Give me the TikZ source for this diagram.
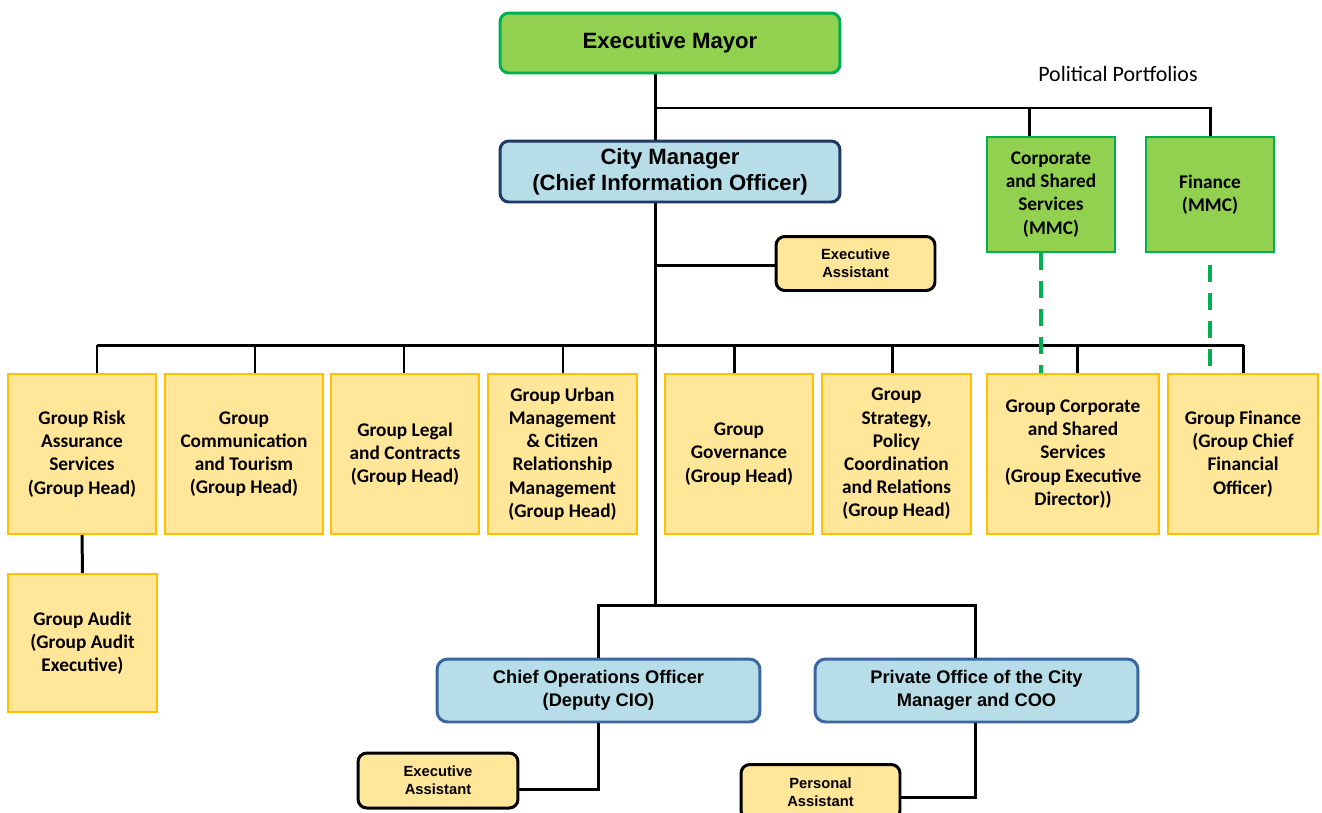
\documentclass[tikz,border=0pt]{standalone}
\usepackage{fontspec}
\setmainfont{Carlito}
\newfontfamily\arialfont{Liberation Sans}
\usepackage{xcolor}
\usepackage{tikz}
\usetikzlibrary{positioning,calc}
\definecolor{mayorgreen}{HTML}{92D050}
\definecolor{edgegreen}{HTML}{00B050}
\definecolor{cmblue}{HTML}{B7DEE8}
\definecolor{cmedge}{HTML}{1F3864}
\definecolor{cooedge}{HTML}{3A67A0}
\definecolor{grpfill}{HTML}{FFE699}
\definecolor{grpedge}{HTML}{FFC000}

\begin{document}
\begin{tikzpicture}[x=0.02cm,y=-0.02cm,
	topbox/.style={rounded corners=5pt,line width=1.7pt,minimum width=6.8cm,align=center,font=\arialfont\bfseries\fontsize{12.6}{14.7}\selectfont},
	mmcbox/.style={draw=edgegreen,fill=mayorgreen,line width=1.2pt,minimum width=2.56cm,minimum height=2.3cm,align=center,font=\bfseries\fontsize{11}{13.2}\selectfont},
	grpbox/.style={draw=grpedge,fill=grpfill,line width=1.2pt,minimum height=3.2cm,align=center,font=\bfseries\fontsize{11}{13.2}\selectfont},
	asstbox/.style={draw=black,fill=grpfill,rounded corners=5pt,line width=1.7pt,minimum width=3.18cm,minimum height=1.08cm,align=center,font=\arialfont\bfseries\fontsize{8.4}{10.2}\selectfont},
	coobox/.style={draw=cooedge,fill=cmblue,rounded corners=6pt,line width=1.7pt,minimum width=6.46cm,minimum height=1.26cm,align=center,font=\arialfont\bfseries\fontsize{10.4}{13}\selectfont},
	link/.style={line width=1.7pt},
	portlink/.style={draw=edgegreen,line width=2.2pt,dash pattern=on 0.34cm off 0.22cm}]
		\useasboundingbox (0,0) rectangle (1322,812);
		\clip (0,0) rectangle (1322,812);
		
		\coordinate (j1) at (655,108);
		\coordinate (j2) at (1029,108);
		\coordinate (j3) at (1210,108);
		\coordinate (j4) at (655,265);
		\coordinate (j5) at (655,605);
		\coordinate (b1) at (598,605);
		\coordinate (b2) at (975,605);
		\coordinate (k1) at (1041,252);
		\coordinate (k2) at (1210,265);
		
		\draw[link] (j1 |- 0,73) -- (j5);
		\draw[link] (j1) -- (j3) -- (j3 |- 0,137);
		\draw[link] (j2) -- (j2 |- 0,137);
		
		\node[topbox,draw=edgegreen,fill=mayorgreen,minimum height=1.2cm] (mayor) at (670,43) {Executive Mayor};
		\node[topbox,draw=cmedge,fill=cmblue,minimum height=1.22cm] (cm) at (670,171.5) {City Manager\\(Chief Information Officer)};
		\node[font=\fontsize{12.5}{15}\selectfont] (pp) at (1118,74) {Political Portfolios};
		\node[mmcbox] (csmmc) at (1051,194.5) {Corporate\\and Shared\\Services\\(MMC)};
		\node[mmcbox] (finmmc) at (1210,194.5) {Finance\\(MMC)};
		\node[asstbox] (ea1) at (855.5,263.5) {Executive\\Assistant};
		\draw[link] (j4) -- (j4 -| ea1.west);
		
		\node[grpbox,minimum width=2.96cm] (g1) at (82,454) {Group Risk\\Assurance\\Services\\(Group Head)};
		\node[grpbox,minimum width=3.16cm] (g2) at (244,454) {Group\\Communication\\and Tourism\\(Group Head)};
		\node[grpbox,minimum width=2.96cm] (g3) at (405,454) {Group Legal\\and Contracts\\(Group Head)};
		\node[grpbox,minimum width=2.98cm] (g4) at (562.5,454) {Group Urban\\Management\\\& Citizen\\Relationship\\Management\\(Group Head)};
		\node[grpbox,minimum width=2.96cm] (g5) at (739,454) {Group\\Governance\\(Group Head)};
		\node[grpbox,minimum width=2.98cm] (g6) at (896.5,454) {Group\\Strategy,\\Policy\\Coordination\\and Relations\\(Group Head)};
		\node[grpbox,minimum width=3.44cm] (g7) at (1073,454) {Group Corporate\\and Shared\\Services\\(Group Executive\\Director))};
		\node[grpbox,minimum width=3.0cm] (g8) at (1243,454) {Group Finance\\(Group Chief\\Financial\\Officer)};
		\node[grpbox,minimum width=2.98cm,minimum height=2.76cm] (ga) at (82.5,643) {Group Audit\\(Group Audit\\Executive)};
		
		\draw[link] (97,345) -- (1244,345);
		\foreach \n/\x in {g1/97,g2/255,g3/404,g4/563,g5/734,g6/892,g7/1077,g8/1243}{
			\coordinate (d\n) at (\x,345);
			\draw[link] (d\n) -- (d\n |- \n.north);
		}
		\draw[link] (g1.south) -- (ga.north);
		\draw[portlink] (k1 |- csmmc.south) -- (k1 |- g7.north);
		\draw[portlink] (k2) -- ([yshift=0.1cm]k2 |- g8.north);
		
		\node[coobox] (coo) at (598.5,690.5) {Chief Operations Officer\\(Deputy CIO)};
		\node[coobox] (pocm) at (976.5,690.5) {Private Office of the City\\Manager and COO};
		\node[asstbox,minimum width=3.2cm,minimum height=1.1cm] (ea2) at (438,780.5) {Executive\\Assistant};
		\node[asstbox,minimum height=1.1cm] (pa) at (820.5,792) {Personal\\Assistant};
		
		\draw[link] (b1 |- coo.north) -- (b1) -- (b2) -- (b2 |- pocm.north);
		\draw[link] (coo.south) |- ([yshift=-0.18cm]ea2.east);
		\draw[link] (b2 |- pocm.south) |- ([yshift=-0.1cm]pa.east);
	\end{tikzpicture}
\end{document}
